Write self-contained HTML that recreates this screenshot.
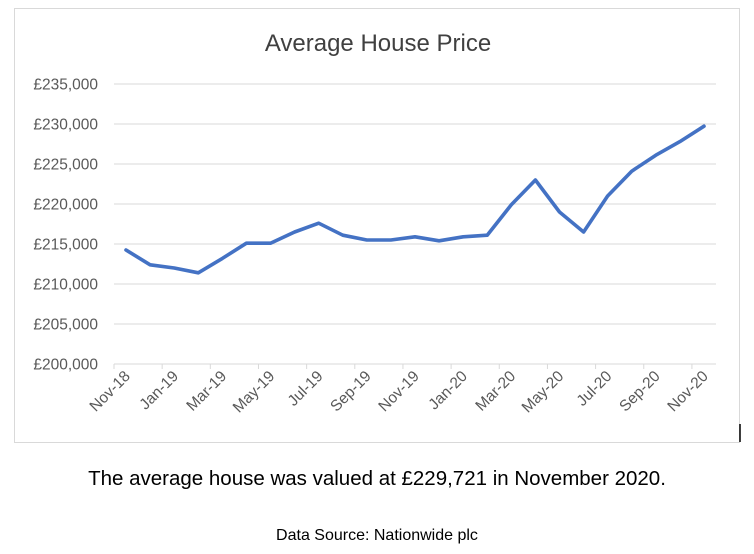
<!DOCTYPE html>
<html><head><meta charset="utf-8"><style>
body{margin:0;background:#fff;width:754px;height:549px;overflow:hidden;font-family:"Liberation Sans",sans-serif}
</style></head><body>
<svg width="754" height="549">
<rect x="14.5" y="8.5" width="725" height="434" fill="#fff" stroke="#d9d9d9"/>
<line x1="740" y1="424" x2="740" y2="442" stroke="#000" stroke-width="1.5"/>
<text x="378" y="51" text-anchor="middle" font-size="24" fill="#404040">Average House Price</text>
<g id="grid"></g><g id="yl"></g><g id="xl"></g>
<path id="ln" fill="none" stroke="#4472c4" stroke-width="3.6" stroke-linejoin="round" stroke-linecap="round"/>
<text x="377" y="485" text-anchor="middle" font-size="20.5" fill="#000">The average house was valued at £229,721 in November 2020.</text>
<text x="377" y="540" text-anchor="middle" font-size="16" fill="#000">Data Source: Nationwide plc</text>
</svg>
<script>
const categories=["Nov-18","Dec-18","Jan-19","Feb-19","Mar-19","Apr-19","May-19","Jun-19","Jul-19","Aug-19","Sep-19","Oct-19","Nov-19","Dec-19","Jan-20","Feb-20","Mar-20","Apr-20","May-20","Jun-20","Jul-20","Aug-20","Sep-20","Oct-20","Nov-20"];
const prices=[214250,212400,212000,211400,213200,215100,215100,216500,217600,216100,215500,215500,215900,215400,215900,216100,219900,223000,219000,216500,221000,224100,226100,227800,229721];
const yTicks=[200000,205000,210000,215000,220000,225000,230000,235000];
const yTickLabels=["£200,000","£205,000","£210,000","£215,000","£220,000","£225,000","£230,000","£235,000"];
const NS="http://www.w3.org/2000/svg";
const L=114,R=716,T=84,B=364,ymin=200000,ymax=235000;
const bw=(R-L)/categories.length;
const x=i=>L+bw*(i+0.5);
const y=v=>B-(v-ymin)/(ymax-ymin)*(B-T);
function mk(t,a,p){const e=document.createElementNS(NS,t);for(const k in a)e.setAttribute(k,a[k]);p.appendChild(e);return e;}
const g=document.getElementById('grid'),yl=document.getElementById('yl'),xl=document.getElementById('xl');
yTicks.forEach((v,i)=>{
 const l=mk('line',{x1:L,x2:R,y1:y(v),y2:y(v),stroke:'#d9d9d9','stroke-width':1},g);
 
 
 const t=mk('text',{x:98,y:y(v)+5.5,'text-anchor':'end','font-size':15.5,fill:'#595959'},yl);
 t.textContent=yTickLabels[i];
 
 
});
for(let k=0;k<=categories.length;k+=2){
 const tx=L+bw*k;
 const tk=mk('line',{x1:tx,x2:tx,y1:B,y2:B+5,stroke:'#d9d9d9'},g);
 
 
}
categories.forEach((c,i)=>{
 if(i%2)return;
 const cx=x(i)+5,cy=B+13;
 const t=mk('text',{x:cx,y:cy,'text-anchor':'end','font-size':15.5,fill:'#595959',transform:`rotate(-45 ${cx} ${cy})`},xl);
 t.textContent=c;
 
 
});
document.getElementById('ln').setAttribute('d',prices.map((v,i)=>(i?'L':'M')+x(i).toFixed(1)+','+y(v).toFixed(1)).join(''));
</script>
</body></html>
